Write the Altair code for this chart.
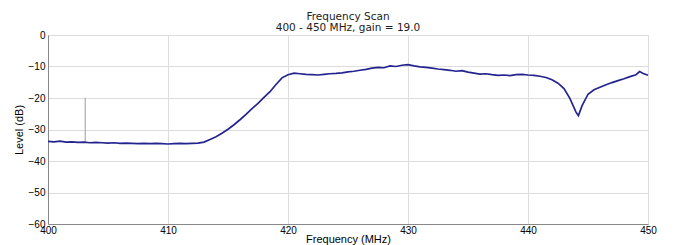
import altair as alt
import pandas as pd

# Frequency scan trace (MHz, dB)
freq = [400.0, 400.5, 401.0, 401.5, 402.0, 402.5, 403.0, 403.5, 404.0, 404.5,
        405.0, 405.5, 406.0, 406.5, 407.0, 407.5, 408.0, 408.5, 409.0, 409.5,
        410.0, 410.5, 411.0, 411.5, 412.0, 412.5, 413.0, 413.5, 414.0, 414.5,
        415.0, 415.5, 416.0, 416.5, 417.0, 417.5, 418.0, 418.5, 419.0, 419.5,
        420.0, 420.5, 421.0, 421.5, 422.0, 422.5, 423.0, 423.5, 424.0, 424.5,
        425.0, 425.5, 426.0, 426.5, 427.0, 427.5, 428.0, 428.5, 429.0, 429.5,
        430.0, 430.5, 431.0, 431.5, 432.0, 432.5, 433.0, 433.5, 434.0, 434.5,
        435.0, 435.5, 436.0, 436.5, 437.0, 437.5, 438.0, 438.5, 439.0, 439.5,
        440.0, 440.5, 441.0, 441.5, 442.0, 442.5, 443.0, 443.5, 444.0, 444.2,
        444.5, 445.0, 445.5, 446.0, 446.5, 447.0, 447.5, 448.0, 448.5, 449.0,
        449.3, 449.6, 450.0]
level = [-33.8, -33.9, -33.7, -34.0, -33.9, -34.1, -34.0, -34.2, -34.1, -34.2,
         -34.3, -34.2, -34.4, -34.3, -34.4, -34.5, -34.4, -34.5, -34.4, -34.5,
         -34.6, -34.5, -34.4, -34.5, -34.4, -34.3, -34.0, -33.2, -32.3, -31.2,
         -29.9, -28.5, -26.9, -25.2, -23.4, -21.7, -19.8, -18.0, -15.7, -13.6,
         -12.6, -12.1, -12.3, -12.5, -12.6, -12.7, -12.5, -12.3, -12.2, -12.0,
         -11.7, -11.5, -11.2, -10.9, -10.5, -10.3, -10.4, -9.8, -10.0, -9.6,
         -9.4, -9.8, -10.1, -10.3, -10.5, -10.8, -11.0, -11.2, -11.5, -11.3,
         -11.8, -12.1, -12.4, -12.3, -12.6, -12.8, -12.7, -12.9, -12.6, -12.5,
         -12.7, -12.8, -13.1, -13.5, -14.2, -15.3, -17.0, -20.2, -24.5, -25.6,
         -22.5, -18.8, -17.4, -16.6, -15.8, -15.1, -14.5, -13.9, -13.2, -12.6,
         -11.6, -12.2, -12.8]

# Marker spike
spike_freq = [403.1]
spike_top = [-20.0]
spike_bottom = [-33.9]

x_ticks = [400, 410, 420, 430, 440, 450]
y_ticks = [0, -10, -20, -30, -40, -50, -60]

FONT = "DejaVu Sans"

trace = pd.DataFrame({"freq": freq, "level": level})
spike = pd.DataFrame({"freq": spike_freq, "top": spike_top, "bottom": spike_bottom})

x_scale = alt.Scale(domain=[400, 450], nice=False, zero=False)
y_scale = alt.Scale(domain=[-60, 0], nice=False, zero=False)
x_axis = alt.Axis(values=x_ticks, format="d", labelFlush=False,
                  labelOverlap=False, labelPadding=1, titlePadding=-2,
                  ticks=False, grid=True, titleFontWeight="normal")
y_axis = alt.Axis(values=y_ticks, format="d", labelPadding=3,
                  labelOverlap=False, titlePadding=4, ticks=False,
                  grid=True, titleFontWeight="normal")

line = alt.Chart(trace).mark_line(color="#24248f", strokeWidth=1.7).encode(
    x=alt.X("freq:Q", title="Frequency (MHz)", scale=x_scale, axis=x_axis),
    y=alt.Y("level:Q", title="Level (dB)", scale=y_scale, axis=y_axis),
)

rule = alt.Chart(spike).mark_rule(color="#9a9a9a", strokeWidth=1).encode(
    x=alt.X("freq:Q", title="Frequency (MHz)", scale=x_scale, axis=x_axis),
    y=alt.Y("top:Q", title="Level (dB)", scale=y_scale, axis=y_axis),
    y2="bottom:Q",
)

chart = (
    alt.layer(rule, line)
    .properties(
        width=600,
        height=189,
        autosize=alt.AutoSizeParams(type="none"),
        padding={"left": 40, "top": 27, "right": 20, "bottom": 21},
        title=alt.TitleParams(
            text="Frequency Scan",
            subtitle="400 - 450 MHz, gain = 19.0",
            font=FONT, subtitleFont=FONT,
            fontSize=10.5, subtitleFontSize=10.5,
            fontWeight="normal",
            color="#222222", subtitleColor="#222222",
            anchor="middle", offset=-3, subtitlePadding=0,
        ),
    )
    .configure_view(stroke="#8c8c8c", strokeWidth=1)
    .configure_axis(
        labelFont=FONT, titleFont=FONT,
        labelFontSize=7.5, titleFontSize=7.5,
        labelColor="#555555", titleColor="#444444",
        titleFontWeight="normal",
        domainColor="#8c8c8c",
        gridColor="#e2e2e2", gridWidth=1,
    )
    .configure(background="white")
)

chart.save("out.html", embed_options={"renderer": "svg", "actions": False})
